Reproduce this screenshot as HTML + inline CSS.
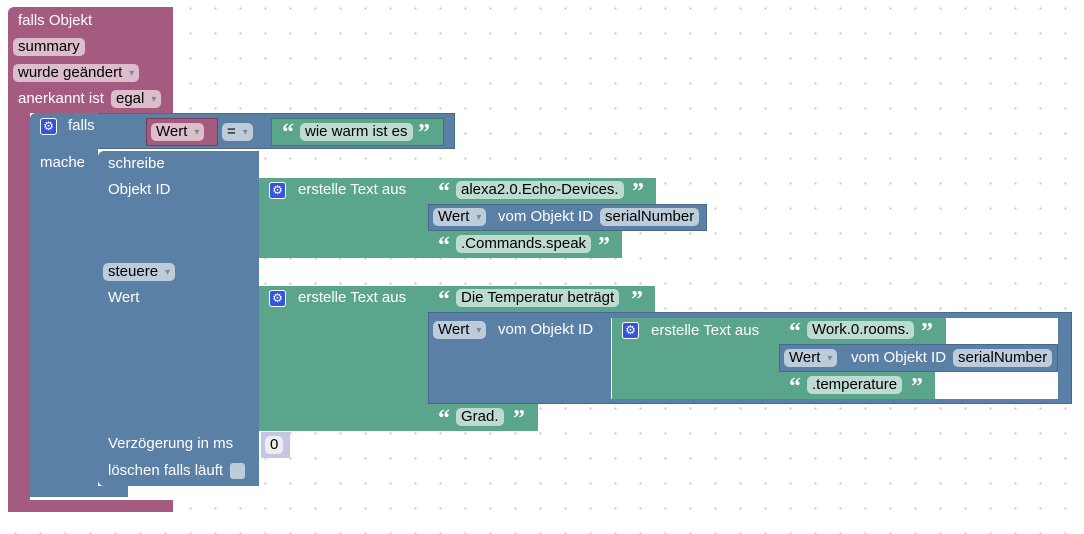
<!DOCTYPE html>
<html><head><meta charset="utf-8"><style>
body{margin:0;width:1084px;height:534px;overflow:hidden;background:#fff;
background-image:radial-gradient(circle,#c8c8c8 1px,transparent 1.3px);background-size:25px 25px;background-position:3px -4px;
font-family:"Liberation Sans",Arial,sans-serif;font-size:15px;position:relative}
div{position:absolute;box-sizing:border-box}
.p{background:#a55b80}.b{background:#5b80a5}.g{background:#5ba58c}
.t{color:#fff;white-space:nowrap;line-height:18px}
.f{border-radius:5px;color:#000;white-space:nowrap;padding:0 5px;line-height:18px;height:18px}
.fp{background:#dbbdcc}.fb{background:#bdccdb}.fg{background:#bddbd1}
.q{color:#fff;font-weight:bold;font-family:"Liberation Serif",serif;font-size:24px;line-height:22px}
.dd::after{content:"▾";font-size:10px;color:#888;padding-left:7px;vertical-align:1px}
.gear{width:17px;height:17px;background:#3355dd;border:1px solid #fff;border-radius:3px;color:#fff;font-size:12px;line-height:15px;text-align:center}
.ol{border:1px solid rgba(0,0,0,.18)}
</style></head><body>
<div class="p" style="left:8px;top:7px;width:165px;height:106px;border-radius:6px 0 0 0"></div>
<div class="p" style="left:8px;top:110px;width:22px;height:402px;border-radius:0 0 0 8px"></div>
<div class="p" style="left:8px;top:500px;width:165px;height:12px"></div>
<div class="t" style="left:18px;top:12px">falls Objekt</div>
<div class="f fp" style="left:13px;top:38px">summary</div>
<div class="f fp dd" style="left:13px;top:64px">wurde geändert</div>
<div class="t" style="left:18px;top:90px">anerkannt ist</div>
<div class="f fp dd" style="left:111px;top:90px">egal</div>

<div class="b ol" style="left:30px;top:113px;width:425px;height:36px;border-radius:6px 0 0 0"></div>
<div class="b" style="left:30px;top:113px;width:68px;height:384px;border-radius:6px 0 0 6px"></div>
<div class="b" style="left:30px;top:486px;width:98px;height:11px"></div>
<div class="gear" style="left:40px;top:118px">⚙</div>
<div class="t" style="left:68px;top:117px">falls</div>
<div class="t" style="left:40px;top:154px">mache</div>
<div class="p" style="left:146px;top:118px;width:72px;height:28px;border:1px solid #7a3d5c"></div>
<div class="f fp dd" style="left:151px;top:123px">Wert</div>
<div class="f fb dd" style="left:222px;top:123px">=</div>
<div class="g" style="left:271px;top:118px;width:173px;height:28px;border:1px solid #3d7a65"></div>
<div class="q" style="left:282px;top:122px">“</div>
<div class="f fg" style="left:300px;top:123px">wie warm ist es</div>
<div class="q" style="left:418px;top:122px">”</div>

<div class="b" style="left:98px;top:151px;width:161px;height:335px;border-radius:6px 0 0 6px"></div>
<div class="t" style="left:108px;top:155px">schreibe</div>
<div class="t" style="left:108px;top:181px">Objekt ID</div>
<div class="f fb dd" style="left:103px;top:263px">steuere</div>
<div class="t" style="left:108px;top:289px">Wert</div>
<div class="t" style="left:108px;top:435px">Verzögerung in ms</div>
<div class="t" style="left:108px;top:462px">löschen falls läuft</div>
<div style="left:230px;top:463px;width:15px;height:16px;background:#bdccdb;border-radius:3px"></div>
<div style="left:261px;top:432px;width:29px;height:26px;background:#c6c6e0"></div>
<div class="f" style="left:265px;top:436px;background:#eee">0</div>

<div class="g" style="left:259px;top:178px;width:170px;height:80px"></div>
<div class="gear" style="left:269px;top:182px">⚙</div>
<div class="t" style="left:298px;top:181px">erstelle Text aus</div>
<div class="g" style="left:428px;top:178px;width:228px;height:26px"></div>
<div class="q" style="left:438px;top:181px">“</div>
<div class="f fg" style="left:456px;top:181px">alexa2.0.Echo-Devices.</div>
<div class="q" style="left:632px;top:181px">”</div>
<div class="b ol" style="left:428px;top:204px;width:279px;height:27px"></div>
<div class="f fb dd" style="left:433px;top:208px">Wert</div>
<div class="t" style="left:498px;top:208px">vom Objekt ID</div>
<div class="f fb" style="left:600px;top:208px">serialNumber</div>
<div class="g" style="left:428px;top:231px;width:194px;height:27px"></div>
<div class="q" style="left:438px;top:235px">“</div>
<div class="f fg" style="left:456px;top:235px">.Commands.speak</div>
<div class="q" style="left:598px;top:235px">”</div>

<div class="g" style="left:259px;top:286px;width:170px;height:145px"></div>
<div class="gear" style="left:269px;top:290px">⚙</div>
<div class="t" style="left:298px;top:289px">erstelle Text aus</div>
<div class="g" style="left:428px;top:286px;width:227px;height:26px"></div>
<div class="q" style="left:438px;top:289px">“</div>
<div class="f fg" style="left:456px;top:289px">Die Temperatur beträgt</div>
<div class="q" style="left:631px;top:289px">”</div>
<div class="b" style="left:428px;top:312px;width:644px;height:92px;border:1px solid #476a8c"></div>
<div class="f fb dd" style="left:433px;top:321px">Wert</div>
<div class="t" style="left:498px;top:321px">vom Objekt ID</div>
<div style="left:611px;top:318px;width:447px;height:81px;background:#fff"></div>
<div class="g" style="left:612px;top:318px;width:168px;height:81px"></div>
<div class="gear" style="left:622px;top:322px">⚙</div>
<div class="t" style="left:651px;top:322px">erstelle Text aus</div>
<div class="g" style="left:779px;top:318px;width:167px;height:26px"></div>
<div class="q" style="left:789px;top:321px">“</div>
<div class="f fg" style="left:807px;top:321px">Work.0.rooms.</div>
<div class="q" style="left:921px;top:321px">”</div>
<div class="b" style="left:779px;top:344px;width:279px;height:28px;border:1px solid #476a8c"></div>
<div class="f fb dd" style="left:784px;top:349px">Wert</div>
<div class="t" style="left:851px;top:349px">vom Objekt ID</div>
<div class="f fb" style="left:953px;top:349px">serialNumber</div>
<div class="g" style="left:779px;top:372px;width:156px;height:27px"></div>
<div class="q" style="left:789px;top:376px">“</div>
<div class="f fg" style="left:807px;top:376px">.temperature</div>
<div class="q" style="left:911px;top:376px">”</div>
<div class="g" style="left:428px;top:404px;width:110px;height:27px"></div>
<div class="q" style="left:438px;top:408px">“</div>
<div class="f fg" style="left:456px;top:408px">Grad.</div>
<div class="q" style="left:513px;top:408px">”</div>
</body></html>
